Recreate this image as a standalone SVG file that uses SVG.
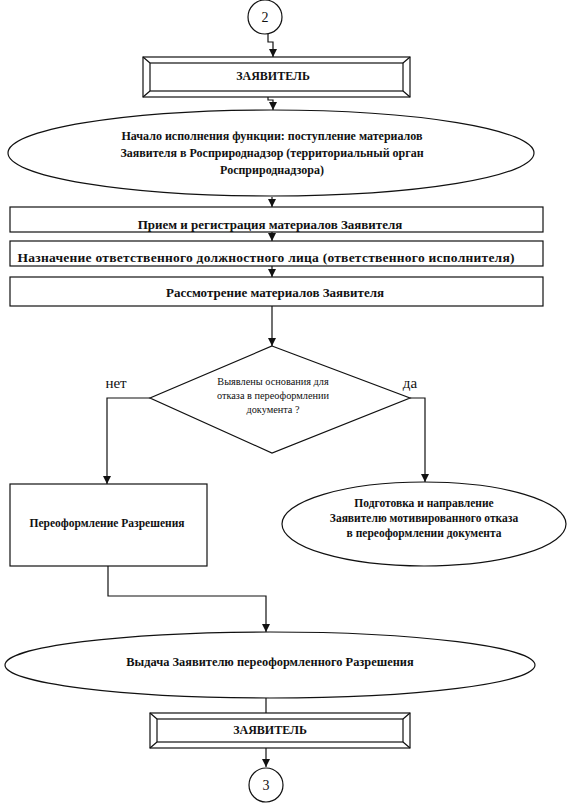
<svg xmlns="http://www.w3.org/2000/svg" width="567" height="808" viewBox="0 0 567 808">
<defs>
<style>
.s{fill:none;stroke:#111;stroke-width:1.2}
.n{fill:#fff;stroke:#111;stroke-width:1.2}
.t{font-family:"Liberation Serif",serif;font-weight:bold;fill:#111;text-anchor:middle}
.r{font-family:"Liberation Serif",serif;fill:#111;text-anchor:middle}
</style>
<marker id="a" viewBox="0 0 8 10" refX="8" refY="5" markerWidth="8" markerHeight="10" markerUnits="userSpaceOnUse" orient="auto">
<path d="M0,1 L8,5 L0,9 Z" fill="#111"/>
</marker>
</defs>
<rect width="567" height="808" fill="#fff"/>
<g id="connectors" class="s">
<path d="M268,34 V42 H273 V57" marker-end="url(#a)"/>
<path d="M268,86 V100 H273 V110" marker-end="url(#a)"/>
<path d="M272,197 V207" marker-end="url(#a)"/>
<path d="M272,232 V241" marker-end="url(#a)"/>
<path d="M272,266 V277" marker-end="url(#a)"/>
<path d="M272,306 V346" marker-end="url(#a)"/>
<path d="M150,398 H107 V484" marker-end="url(#a)"/>
<path d="M410,398 H425 V482" marker-end="url(#a)"/>
<path d="M108,566 V596 H266 V632" marker-end="url(#a)"/>
<path d="M266,697 V713"/>
<path d="M266,748 V767" marker-end="url(#a)"/>
</g>
<g id="c2">
<circle cx="265" cy="17" r="17" class="n"/>
<text x="265" y="22" class="r" font-size="14">2</text>
</g>
<g id="z1">
<rect x="143" y="57" width="267" height="40" class="n"/>
<rect x="150" y="63" width="253" height="28" class="s"/>
<path d="M143,57 L150,63 M410,57 L403,63 M143,97 L150,91 M410,97 L403,91" class="s"/>
<text x="273" y="80" class="t" font-size="12">ЗАЯВИТЕЛЬ</text>
</g>
<g id="e1">
<ellipse cx="271" cy="153" rx="263" ry="43" class="n"/>
<text class="t" font-size="12"><tspan x="272" y="140">Начало исполнения функции: поступление материалов</tspan><tspan x="272" y="157">Заявителя в Росприроднадзор (территориальный орган</tspan><tspan x="272" y="174">Росприроднадзора)</tspan></text>
</g>
<g id="b1">
<rect x="10" y="207" width="533" height="25" class="n"/>
<text x="270" y="229" class="t" font-size="13">Прием и регистрация материалов Заявителя</text>
</g>
<g id="b2">
<rect x="10" y="241" width="533" height="25" class="n"/>
<text x="266" y="262" class="t" font-size="13.5" textLength="497" lengthAdjust="spacing">Назначение ответственного должностного лица (ответственного исполнителя)</text>
</g>
<g id="b3">
<rect x="10" y="277" width="533" height="29" class="n"/>
<text x="275" y="297" class="t" font-size="13">Рассмотрение материалов Заявителя</text>
</g>
<g id="d1">
<path d="M272,346 L410,398 L272,453 L150,398 Z" class="n"/>
<text class="r" font-size="10.3"><tspan x="273" y="385">Выявлены основания для</tspan><tspan x="273" y="399">отказа в переоформлении</tspan><tspan x="273" y="413">документа ?</tspan></text>
</g>
<text x="116" y="388" class="r" font-size="15">нет</text>
<text x="410" y="388" class="r" font-size="15">да</text>
<g id="b4">
<rect x="10" y="484" width="197" height="82" class="n"/>
<text x="107" y="527" class="t" font-size="11.5">Переоформление Разрешения</text>
</g>
<g id="e2">
<ellipse cx="424" cy="524" rx="142" ry="42" class="n"/>
<text class="t" font-size="11.5"><tspan x="424" y="507">Подготовка и направление</tspan><tspan x="424" y="522">Заявителю мотивированного отказа</tspan><tspan x="424" y="537">в переоформлении документа</tspan></text>
</g>
<g id="e3">
<ellipse cx="270" cy="665" rx="265" ry="33" class="n"/>
<text x="270" y="666" class="t" font-size="12.4">Выдача Заявителю переоформленного Разрешения</text>
</g>
<g id="z2">
<rect x="150" y="713" width="260" height="35" class="n"/>
<rect x="157" y="719" width="246" height="23" class="s"/>
<path d="M150,713 L157,719 M410,713 L403,719 M150,748 L157,742 M410,748 L403,742" class="s"/>
<text x="270" y="734" class="t" font-size="12">ЗАЯВИТЕЛЬ</text>
</g>
<g id="c3">
<circle cx="266" cy="785" r="17" class="n"/>
<text x="266" y="790" class="r" font-size="14">3</text>
</g>
</svg>
